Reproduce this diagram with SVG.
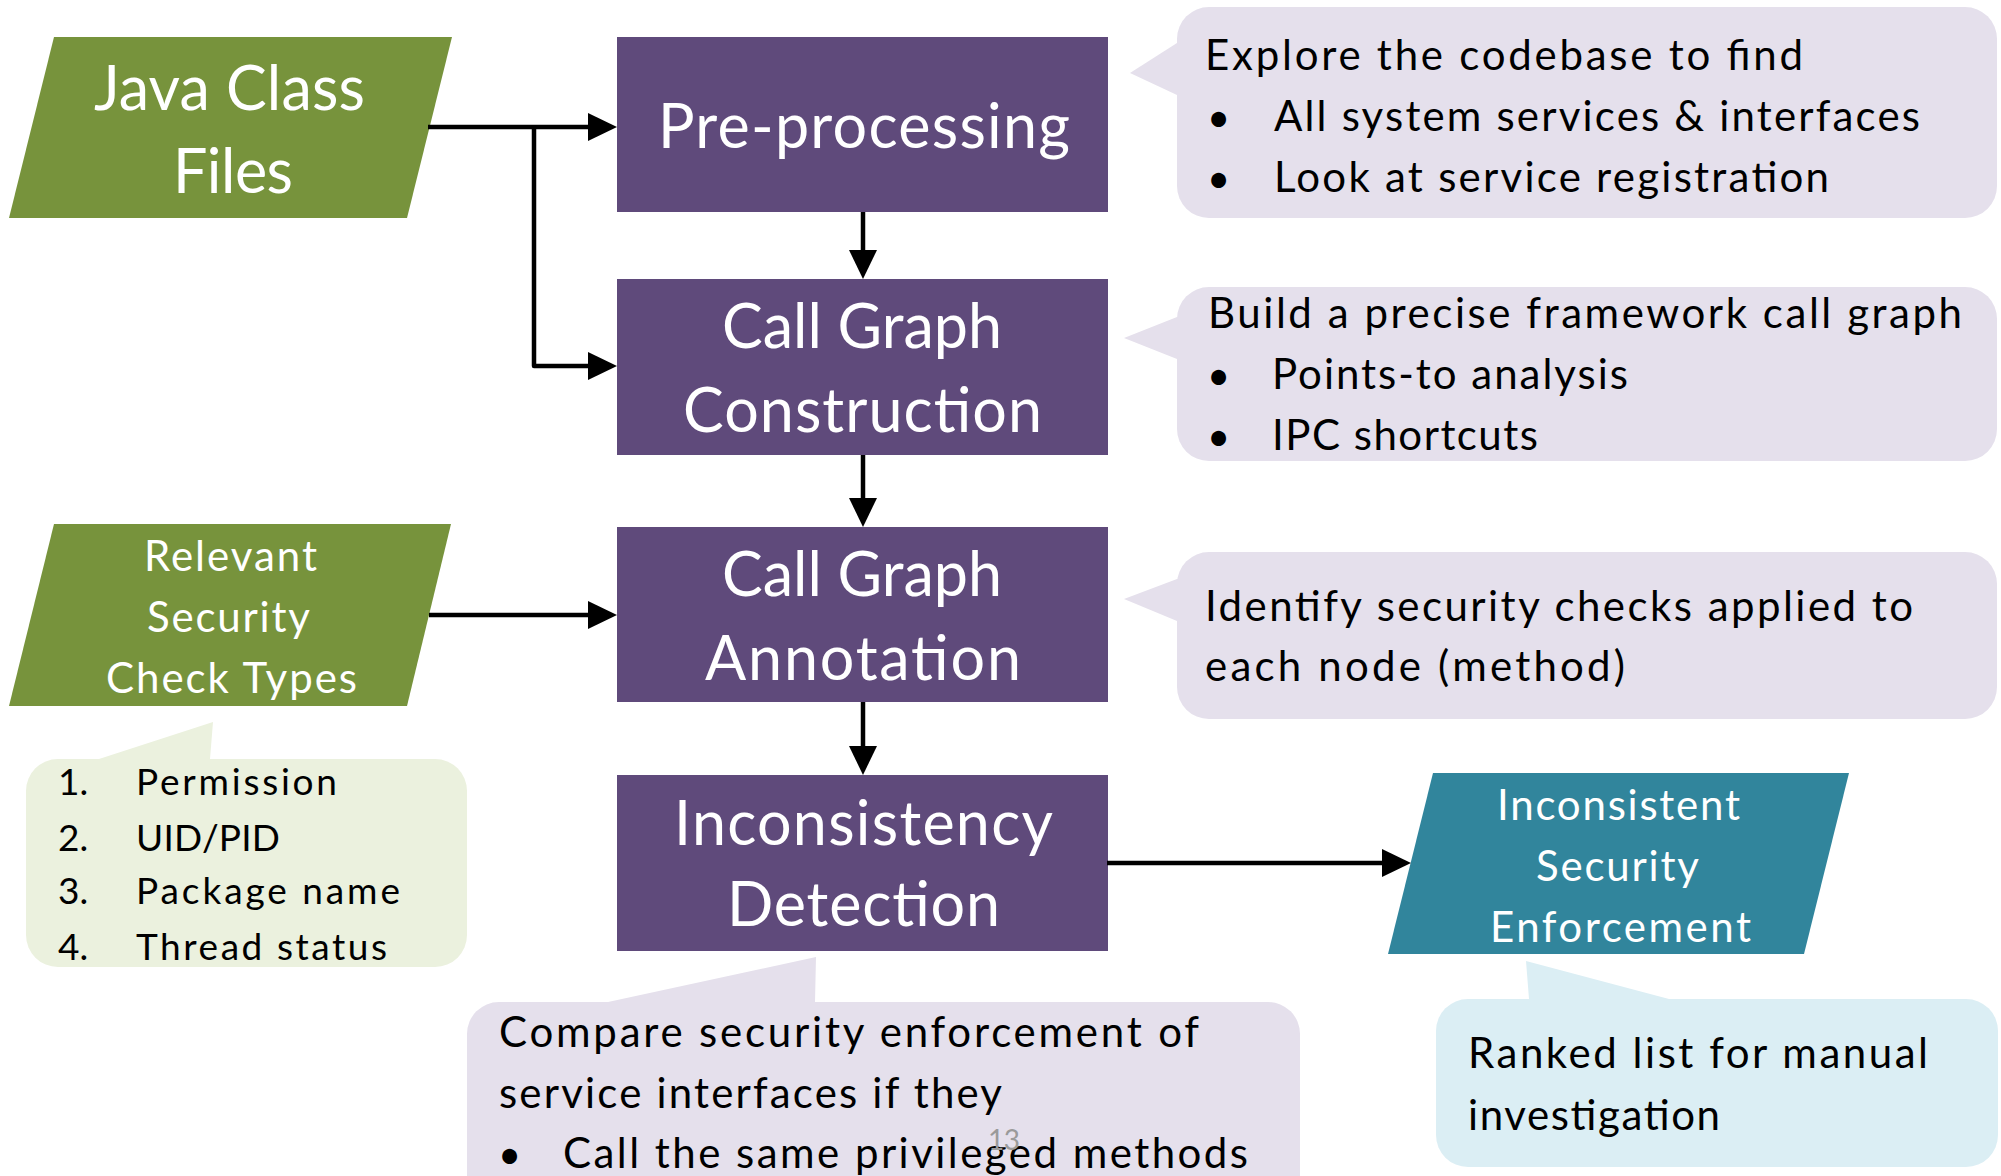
<svg xmlns="http://www.w3.org/2000/svg" width="2001" height="1176" viewBox="0 0 2001 1176">
  <defs>
    <style>
      .t { font-family: Lato, "Open Sans", "Liberation Sans", sans-serif; }
      .title { font-size: 61px; fill: #ffffff; }
      .io { font-size: 42px; fill: #ffffff; }
      .note { font-size: 42px; fill: #000000; }
      .list { font-size: 37px; fill: #000000; }
      .bullet { font-size: 40px; fill: #000000; }
      .step { fill: #5f4a7b; }
      .input { fill: #77933c; }
      .output { fill: #31859c; }
      .call-purple { fill: #e5e0ec; }
      .call-green { fill: #ebf1de; }
      .call-blue { fill: #dbeef4; }
      .wire { fill: none; stroke: #000000; stroke-width: 4.5; stroke-linejoin: round; marker-end: url(#head); }
      .pagenum { font-size: 28px; fill: #9a9a9a; }
    </style>
    <marker id="head" viewBox="0 0 29 28" refX="0" refY="14" markerWidth="29" markerHeight="28" markerUnits="userSpaceOnUse" orient="auto">
      <polygon points="0,0 29,14 0,28" fill="#000000"/>
    </marker>
  </defs>

  <rect x="0" y="0" width="2001" height="1176" fill="#ffffff"/>

  <!-- inputs -->
  <g id="java-class-files">
    <polygon class="input" points="54,37 452,37 407,218 9,218"/>
    <text class="t title" x="94" y="110" textLength="271">Java Class</text>
    <text class="t title" x="173" y="193" textLength="120">Files</text>
  </g>

  <g id="check-types">
    <polygon class="input" points="54,524 451,524 407,706 9,706"/>
    <text class="t io" x="144" y="571" textLength="173">Relevant</text>
    <text class="t io" x="147" y="632" textLength="163">Security</text>
    <text class="t io" x="106" y="693" textLength="251">Check Types</text>
  </g>

  <!-- pipeline steps -->
  <g id="pre-processing">
    <rect class="step" x="617" y="37" width="491" height="175"/>
    <text class="t title" x="658" y="148" textLength="412">Pre-processing</text>
  </g>

  <g id="cg-construction">
    <rect class="step" x="617" y="279" width="491" height="176"/>
    <text class="t title" x="722" y="348" textLength="280">Call Graph</text>
    <text class="t title" x="683" y="432" textLength="359">Construction</text>
  </g>

  <g id="cg-annotation">
    <rect class="step" x="617" y="527" width="491" height="175"/>
    <text class="t title" x="722" y="596" textLength="280">Call Graph</text>
    <text class="t title" x="705" y="680" textLength="316">Annotation</text>
  </g>

  <g id="inconsistency-detection">
    <rect class="step" x="617" y="775" width="491" height="176"/>
    <text class="t title" x="674" y="845" textLength="379">Inconsistency</text>
    <text class="t title" x="727" y="926" textLength="273">Detection</text>
  </g>

  <!-- result -->
  <g id="inconsistent-enforcement">
    <polygon class="output" points="1433,773 1849,773 1804,954 1388,954"/>
    <text class="t io" x="1497" y="820" textLength="243">Inconsistent</text>
    <text class="t io" x="1536" y="881" textLength="163">Security</text>
    <text class="t io" x="1490" y="942" textLength="261">Enforcement</text>
  </g>

  <!-- callouts: rounded body plus a pointer that overlaps the body slightly -->
  <g id="note-pre-processing">
    <rect class="call-purple" x="1177" y="7" width="820" height="211" rx="32"/>
    <polygon class="call-purple" points="1187,43 1177,43 1130,73 1177,95 1187,95"/>
    <text class="t note" x="1205" y="70" textLength="598">Explore the codebase to find</text>
    <text class="t bullet" x="1207" y="132">•</text>
    <text class="t note" x="1274" y="131" textLength="646">All system services &amp; interfaces</text>
    <text class="t bullet" x="1207" y="193">•</text>
    <text class="t note" x="1274" y="192" textLength="555">Look at service registration</text>
  </g>

  <g id="note-construction">
    <rect class="call-purple" x="1177" y="287" width="820" height="174" rx="32"/>
    <polygon class="call-purple" points="1187,317 1177,317 1124,338 1177,359 1187,359"/>
    <text class="t note" x="1208" y="328" textLength="754">Build a precise framework call graph</text>
    <text class="t bullet" x="1207" y="390">•</text>
    <text class="t note" x="1272" y="389" textLength="356">Points-to analysis</text>
    <text class="t bullet" x="1207" y="451">•</text>
    <text class="t note" x="1272" y="450" textLength="266">IPC shortcuts</text>
  </g>

  <g id="note-annotation">
    <rect class="call-purple" x="1177" y="552" width="820" height="167" rx="32"/>
    <polygon class="call-purple" points="1187,579 1177,579 1124,599 1177,621 1187,621"/>
    <text class="t note" x="1205" y="621" textLength="708">Identify security checks applied to</text>
    <text class="t note" x="1205" y="681" textLength="420">each node (method)</text>
  </g>

  <g id="note-check-types">
    <rect class="call-green" x="26" y="759" width="441" height="208" rx="32"/>
    <polygon class="call-green" points="99,769 99,759 213,722 210,759 210,769"/>
    <text class="t list" x="58" y="795">1.</text>
    <text class="t list" x="136" y="795" textLength="201">Permission</text>
    <text class="t list" x="58" y="851">2.</text>
    <text class="t list" x="136" y="851" textLength="144">UID/PID</text>
    <text class="t list" x="58" y="904">3.</text>
    <text class="t list" x="136" y="904" textLength="264">Package name</text>
    <text class="t list" x="58" y="960">4.</text>
    <text class="t list" x="136" y="960" textLength="251">Thread status</text>
  </g>

  <g id="note-detection">
    <rect class="call-purple" x="467" y="1002" width="833" height="250" rx="32"/>
    <polygon class="call-purple" points="608,1012 608,1002 816,957 815,1002 815,1012"/>
    <text class="t note" x="499" y="1047" textLength="700">Compare security enforcement of</text>
    <text class="t note" x="499" y="1108" textLength="503">service interfaces if they</text>
    <text class="t bullet" x="498" y="1169">•</text>
    <text class="t note" x="563" y="1168" textLength="685">Call the same privileged methods</text>
  </g>

  <g id="note-result">
    <rect class="call-blue" x="1436" y="999" width="562" height="168" rx="32"/>
    <polygon class="call-blue" points="1529,1009 1529,999 1526,961 1669,999 1669,1009"/>
    <text class="t note" x="1468" y="1068" textLength="460">Ranked list for manual</text>
    <text class="t note" x="1468" y="1130" textLength="252">investigation</text>
  </g>

  <!-- connectors -->
  <g id="connectors">
    <path class="wire" d="M428,127 H588"/>
    <path class="wire" d="M534,127 V366 H588"/>
    <path class="wire" d="M429,615 H588"/>
    <path class="wire" d="M863,212 V250"/>
    <path class="wire" d="M863,455 V498"/>
    <path class="wire" d="M863,702 V746"/>
    <path class="wire" d="M1107,863 H1382"/>
  </g>

  <!-- slide number, printed over the bottom note -->
  <text class="t pagenum" x="988" y="1150" textLength="32">13</text>
</svg>
